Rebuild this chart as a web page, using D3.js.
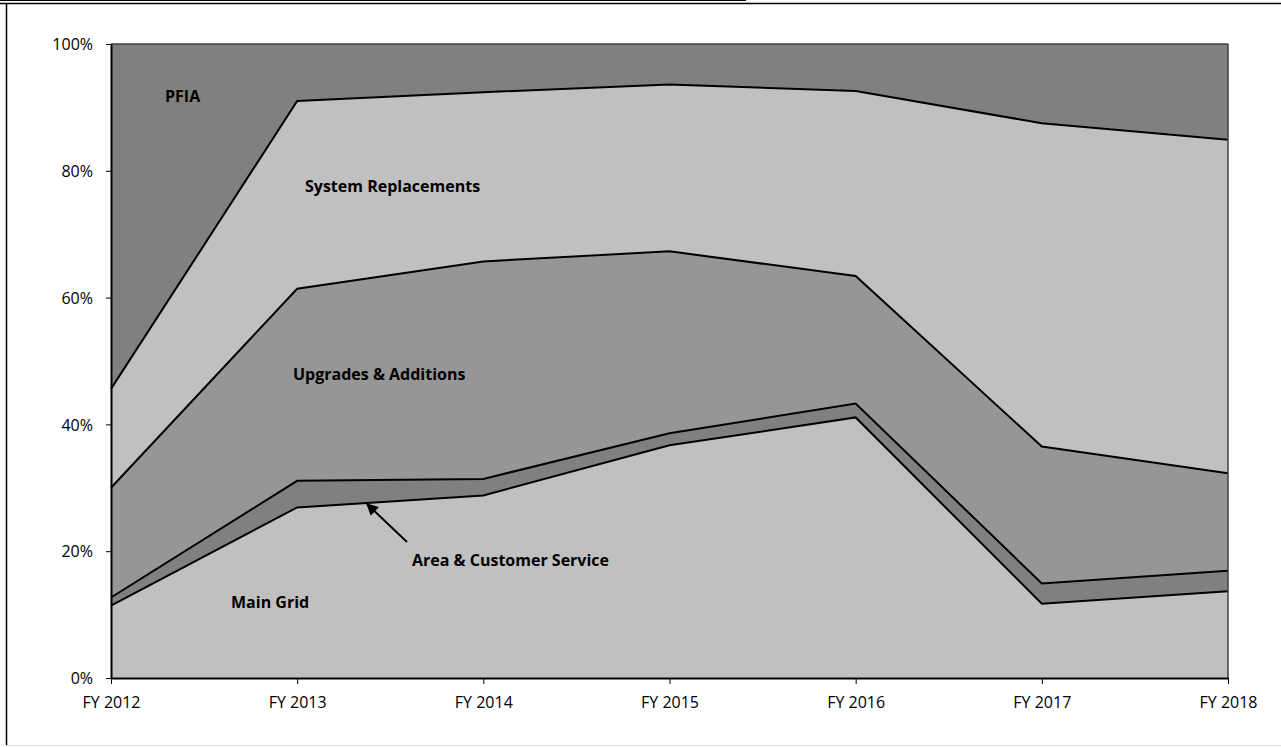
<!DOCTYPE html>
<html>
<head>
<meta charset="utf-8">
<script src="https://cdn.jsdelivr.net/npm/d3@7"></script>
<style>
  html, body { margin: 0; padding: 0; background: #fff; }
  svg { display: block; }
</style>
</head>
<body>
<svg id="chart" width="1281" height="747"></svg>
<script>
// Fiscal years on the x axis
const years = ["FY 2012", "FY 2013", "FY 2014", "FY 2015", "FY 2016", "FY 2017", "FY 2018"];

// Share of spending per program (%), stacked bottom to top
const mainGrid        = [11.4, 26.9, 28.8, 36.7, 41.1, 11.7, 13.7];
const areaCustomer    = [1.3, 4.2, 2.6, 1.9, 2.2, 3.2, 3.2];
const upgradesAdds    = [17.3, 30.3, 34.3, 28.7, 20.1, 21.6, 15.4];
const systemReplace   = [15.6, 29.6, 26.7, 26.3, 29.2, 51.0, 52.6];
const pfia            = [54.4, 9.0, 7.6, 6.4, 7.4, 12.5, 15.1];

const seriesKeys = ["Main Grid", "Area & Customer Service", "Upgrades & Additions", "System Replacements", "PFIA"];
const seriesValues = [mainGrid, areaCustomer, upgradesAdds, systemReplace, pfia];
const seriesFill = ["#c0c0c0", "#808080", "#969696", "#c0c0c0", "#808080"];

const yTicks = [0, 20, 40, 60, 80, 100];

const table = years.map((yr, i) => {
  const row = { year: yr };
  seriesKeys.forEach((k, j) => { row[k] = seriesValues[j][i]; });
  return row;
});

const svg = d3.select("#chart");
const plotLeft = 111, plotRight = 1228, plotTop = 44, plotBottom = 678;

const x = d3.scalePoint().domain(years).range([plotLeft, plotRight]);
const y = d3.scaleLinear().domain([0, 100]).range([plotBottom, plotTop]);

// page frame lines
svg.append("line").attr("x1", 0).attr("x2", 746).attr("y1", 0.5).attr("y2", 0.5)
  .attr("stroke", "#000").attr("stroke-width", 1);
svg.append("line").attr("x1", 0).attr("x2", 1281).attr("y1", 3.5).attr("y2", 3.5)
  .attr("stroke", "#000").attr("stroke-width", 1.5);
svg.append("line").attr("x1", 6.5).attr("x2", 6.5).attr("y1", 3).attr("y2", 745)
  .attr("stroke", "#000").attr("stroke-width", 1.5);
svg.append("line").attr("x1", 6).attr("x2", 1281).attr("y1", 745.5).attr("y2", 745.5)
  .attr("stroke", "#d9d9d9").attr("stroke-width", 1);

const stack = d3.stack().keys(seriesKeys);
const layers = stack(table);

const area = d3.area()
  .x(d => x(d.data.year))
  .y0(d => y(d[0]))
  .y1(d => y(d[1]));

svg.append("g").selectAll("path")
  .data(layers)
  .join("path")
  .attr("d", area)
  .attr("fill", (d, i) => seriesFill[i]);

// boundary lines between layers
const topLine = d3.line().x(d => x(d.data.year)).y(d => y(d[1]));
svg.append("g").selectAll("path")
  .data(layers.slice(0, layers.length - 1))
  .join("path")
  .attr("d", topLine)
  .attr("fill", "none")
  .attr("stroke", "#000")
  .attr("stroke-width", 2)
  .attr("stroke-linejoin", "miter");

// outer edge of the top layer
svg.append("path")
  .attr("d", topLine(layers[layers.length - 1]))
  .attr("fill", "none").attr("stroke", "#404040").attr("stroke-width", 1.5);
svg.append("line")
  .attr("x1", plotRight).attr("x2", plotRight).attr("y1", y(100)).attr("y2", y(0))
  .attr("stroke", "#404040").attr("stroke-width", 1.5);

// axes
const fontFam = "'Open Sans', sans-serif";
const yAxis = svg.append("g").attr("transform", `translate(${plotLeft},0)`)
  .call(d3.axisLeft(y).tickValues(yTicks).tickFormat(d => d + "%").tickSize(5).tickSizeOuter(0));
const xAxis = svg.append("g").attr("transform", `translate(0,${plotBottom})`)
  .call(d3.axisBottom(x).tickSize(6).tickSizeOuter(0));
[yAxis, xAxis].forEach(g => {
  g.select(".domain").attr("stroke", "#000").attr("stroke-width", 2);
  g.selectAll(".tick line").attr("stroke", "#000").attr("stroke-width", 1);
  g.selectAll("text").attr("font-family", fontFam).attr("font-size", 16).attr("fill", "#000");
});
yAxis.selectAll("text").attr("x", -18).attr("dy", "0.36em");
xAxis.selectAll("text").attr("y", 19);

// series labels
const labels = [
  { text: "PFIA", x: 165, y: 102 },
  { text: "System Replacements", x: 305, y: 192 },
  { text: "Upgrades & Additions", x: 293, y: 380 },
  { text: "Area & Customer Service", x: 412, y: 566 },
  { text: "Main Grid", x: 231, y: 608 }
];
svg.append("g").selectAll("text")
  .data(labels)
  .join("text")
  .attr("x", d => d.x).attr("y", d => d.y)
  .attr("font-family", fontFam)
  .attr("font-weight", "bold")
  .attr("font-size", 16)
  .attr("fill", "#000")
  .text(d => d.text);

// leader arrow for the thin layer
svg.append("defs").append("marker")
  .attr("id", "arrowhead").attr("viewBox", "0 0 10 10")
  .attr("refX", 9).attr("refY", 5)
  .attr("markerWidth", 6).attr("markerHeight", 6)
  .attr("orient", "auto-start-reverse")
  .append("path").attr("d", "M0,0 L10,5 L0,10 z").attr("fill", "#000");
svg.append("line")
  .attr("x1", 407).attr("y1", 542).attr("x2", 367).attr("y2", 504)
  .attr("stroke", "#000").attr("stroke-width", 2)
  .attr("marker-end", "url(#arrowhead)");
</script>
</body>
</html>
